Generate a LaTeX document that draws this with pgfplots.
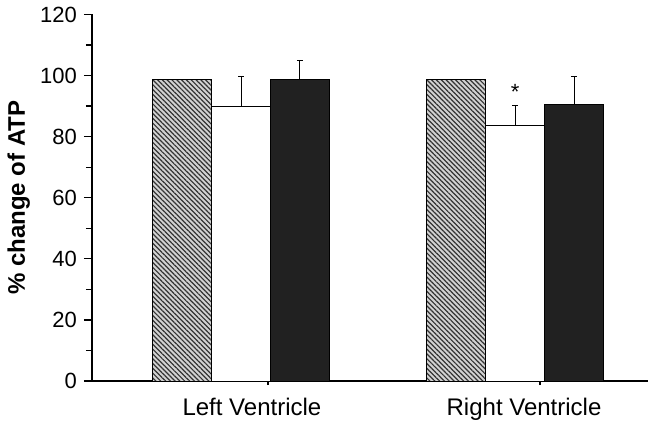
\documentclass[border=0pt]{standalone}
\usepackage{fontspec}
\setmainfont{Liberation Sans}
\usepackage{pgfplots}
\pgfplotsset{compat=1.18}
\usetikzlibrary{patterns.meta}
\begin{document}
\begin{tikzpicture}
\begin{axis}[
 scale only axis, width=278pt, height=183.3pt,
 xmin=0.456, xmax=2.485, ymin=0, ymax=120,
 axis x line=bottom, axis y line=left,
 axis line style={-, line width=0.6pt, black},
 ytick={0,20,...,120}, minor y tick num=1,
 tick align=outside, major tick length=4pt, minor tick length=3pt,
 tick style={black, line width=0.6pt},
 xtick={1.098,2.091}, xticklabels={Left Ventricle, Right Ventricle},
 xtick style={/pgfplots/major tick length=2pt},
 xticklabel style={font=\fontsize{12}{14}\selectfont, xshift=-8pt, yshift=-1pt},
 yticklabel style={font=\fontsize{11}{12}\selectfont},
 /pgf/number format/assume math mode=true,
 ylabel={\% change of ATP},
 ylabel style={font=\bfseries\fontsize{12}{14}\selectfont, at={(axis description cs:-0.132,0.5)}, anchor=center},
]
\addplot[ybar, bar width=0.215, bar shift=0pt, draw=black, line width=0.5pt, fill=gray!35,
  postaction={pattern={Lines[angle=-45, distance=1.7pt, line width=0.6pt]}, pattern color=black!80}]
  coordinates {(0.785,98.7) (1.785,98.7)};
\addplot[ybar, bar width=0.215, bar shift=0pt, draw=black, line width=0.5pt, fill=white,
  error bars/.cd, y dir=plus, y explicit,
  error bar style={line width=0.5pt, black},
  error mark options={black, mark size=1.5pt, line width=0.6pt, rotate=90}]
  coordinates {(1,90.0) +- (0,9.6) (2,83.8) +- (0,6.5)};
\addplot[ybar, bar width=0.215, bar shift=0pt, draw=black, line width=0.5pt, fill=black!87,
  error bars/.cd, y dir=plus, y explicit,
  error bar style={line width=0.5pt, black},
  error mark options={black, mark size=1.5pt, line width=0.6pt, rotate=90}]
  coordinates {(1.215,98.7) +- (0,6.2) (2.215,90.5) +- (0,9.3)};
\node[font=\fontsize{11}{12}\selectfont] at (axis cs:2,94.5) {*};
\end{axis}
\path (-46pt,-20pt) rectangle (279pt,190pt);
\end{tikzpicture}
\end{document}
